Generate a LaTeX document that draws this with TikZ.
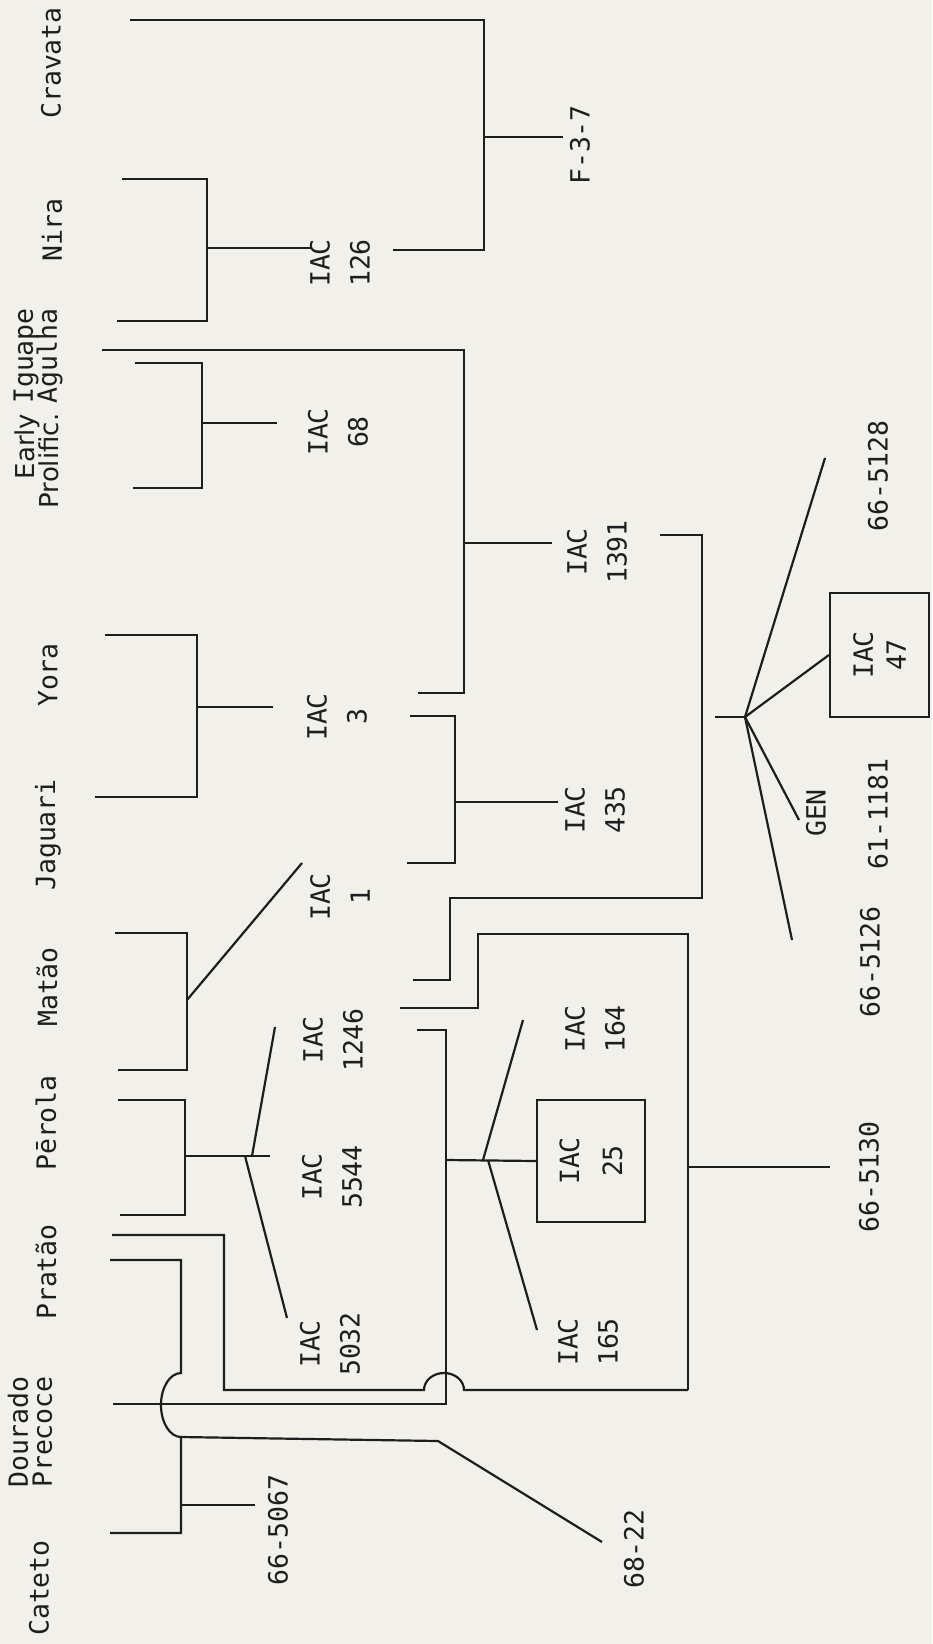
\documentclass[tikz,border=0pt]{standalone}
\usepackage{fontspec}
\newfontfamily\typefont{DejaVu Sans Mono}
\newfontfamily\propfont{DejaVu Sans}
\definecolor{paper}{HTML}{F1F0EB}
\definecolor{ink}{HTML}{1E1E1E}

\begin{document}
\begin{tikzpicture}[
  x=1pt, y=-1pt,
  line width=2.2pt,
  every node/.style={text=ink, rotate=90, inner sep=2pt,
    font={\typefont\fontsize{26.5}{24}\selectfont\lineskiplimit=-100pt}},
  cultivar/.style={align=center},
  sel/.style={align=center, font={\typefont\fontsize{26.5}{40}\selectfont}},
  selbox/.style={sel, draw=ink, inner sep=0pt},
  link/.style={draw=ink, line join=miter}
]
\fill[paper] (0,0) rectangle (932,1644);
\useasboundingbox (0,0) rectangle (932,1644);

\node[cultivar] (cravata) at (51,63) {Cravata};
\node[cultivar] (nira) at (52,230) {Nira};
\node[cultivar] (iguape) at (38,356) {Iguape\\Agulha};
\node[align=right, font={\propfont\fontsize{26}{24}\selectfont\lineskiplimit=-100pt}] (early) at (37,461) {Early\\Prolific.};
\node[cultivar] (yora) at (48,675) {Yora};
\node[cultivar] (jaguari) at (48,835) {Jaguari};
\node[cultivar] (matao) at (47,987) {Matão};
\node[cultivar] (perola) at (46,1123) {Pērola};
\node[cultivar] (pratao) at (46,1272) {Pratão};
\node[cultivar] (dourado) at (30,1432) {Dourado\\Precoce};
\node[cultivar] (cateto) at (39,1588) {Cateto};

\node[sel] (iac126) at (340,263) {IAC\\126};
\node[sel] (f37) at (580,145) {F-3-7};
\node[sel] (iac68) at (338,432) {IAC\\68};
\node[sel] (iac1391) at (597,552) {IAC\\1391};
\node[sel] (iac3) at (337,717) {IAC\\3};
\node[sel] (iac435) at (595,810) {IAC\\435};
\node[sel] (iac1) at (340,897) {IAC\\1};
\node[sel] (iac1246) at (333,1040) {IAC\\1246};
\node[sel] (iac5544) at (332,1177) {IAC\\5544};
\node[sel] (iac5032) at (330,1344) {IAC\\5032};
\node[sel] (iac164) at (595,1029) {IAC\\164};
\node[selbox, minimum width=122pt, minimum height=108pt] (iac25) at (591,1161) {IAC\\[3pt]25};
\node[sel] (iac165) at (588,1342) {IAC\\165};
\node[selbox, minimum width=124pt, minimum height=99pt] (iac47) at (879.5,655) {IAC\\[-7pt]47};
\node[sel] (sel5128) at (878,476) {66-5128};
\node[sel] (gen) at (816,813) {GEN};
\node[sel] (sel1181) at (878,814) {61-1181};
\node[sel] (sel5126) at (870,962) {66-5126};
\node[sel] (sel5130) at (869,1177) {66-5130};
\node[sel] (sel5067) at (278,1530) {66-5067};
\node[sel] (sel6822) at (634,1549) {68-22};

\coordinate (c-cra) at (130,20);
\coordinate (c-nir) at (122,179);
\coordinate (c-igu1) at (117,321);
\coordinate (c-igu2) at (102,350);
\coordinate (c-igu3) at (135,363);
\coordinate (c-ear) at (133,488);
\coordinate (c-yor) at (105,635);
\coordinate (c-jag) at (95,797);
\coordinate (c-mat) at (115,933);
\coordinate (c-per1) at (118,1070);
\coordinate (c-per2) at (118,1100);
\coordinate (c-pra1) at (120,1215);
\coordinate (c-pra2) at (112,1235);
\coordinate (c-pra3) at (110,1260);
\coordinate (c-dou) at (113,1404);
\coordinate (c-cat) at (110,1533);

\coordinate (e-126) at (393,250);
\coordinate (t-126) at (312,248);
\coordinate (t-f37) at (563,137);
\coordinate (t-68) at (277,423);
\coordinate (t-1391) at (552,543);
\coordinate (t-3) at (273,707);
\coordinate (e-3a) at (418,693);
\coordinate (e-3b) at (410,716);
\coordinate (t-1) at (302,863);
\coordinate (e-1) at (407,863);
\coordinate (t-435) at (558,802);
\coordinate (e-1391) at (660,535);
\coordinate (f-1391) at (413,980);
\coordinate (e-1246a) at (400,1008);
\coordinate (e-1246b) at (417,1030);
\coordinate (t-1246) at (275,1027);
\coordinate (t-5544) at (270,1156);
\coordinate (t-5032) at (287,1318);
\coordinate (t-164) at (523,1020);
\coordinate (t-165) at (537,1330);
\coordinate (t-5130) at (830,1167);
\coordinate (t-5067) at (255,1505);
\coordinate (t-6822) at (602,1542);
\coordinate (t-5128) at (825,458);
\coordinate (t-gen) at (799,820);
\coordinate (t-5126) at (792,940);
\coordinate (h-in) at (715,717);
\coordinate (hub) at (745,717);

\coordinate (j-f37) at (484,137);
\coordinate (j-126) at (207,248);
\coordinate (j-1391) at (464,543);
\coordinate (j-68) at (202,423);
\coordinate (j-3) at (197,707);
\coordinate (j-435) at (455,802);
\coordinate (k-1391a) at (702,898);
\coordinate (k-1391b) at (450,898);
\coordinate (j-1) at (187,1000);
\coordinate (j-5544) at (185,1156);
\coordinate (b-up) at (252,1156);
\coordinate (b-dn) at (245,1156);
\coordinate (k-5130) at (478,934);
\coordinate (j-5130) at (688,1167);
\coordinate (k-5130b) at (688,1390);
\coordinate (k-pra) at (224,1390);
\coordinate (hop-pra) at (424,1390);
\coordinate (j-25) at (446,1160);
\coordinate (b25-up) at (483,1160);
\coordinate (b25-dn) at (488,1160);
\coordinate (hop-cat) at (181,1373);
\coordinate (j-6822) at (181,1437);
\coordinate (k-6822) at (438,1441);
\coordinate (j-5067) at (181,1505);

\draw[link] (c-cra) -| (j-f37) |- (e-126);
\draw[link] (j-f37) -- (t-f37);
\draw[link] (c-nir) -| (j-126) |- (c-igu1);
\draw[link] (j-126) -- (t-126);
\draw[link] (c-igu2) -| (j-1391) |- (e-3a);
\draw[link] (j-1391) -- (t-1391);
\draw[link] (c-igu3) -| (j-68) |- (c-ear);
\draw[link] (j-68) -- (t-68);
\draw[link] (c-yor) -| (j-3) |- (c-jag);
\draw[link] (j-3) -- (t-3);
\draw[link] (e-3b) -| (j-435) |- (e-1);
\draw[link] (j-435) -- (t-435);
\draw[link] (e-1391) -| (k-1391a) -- (k-1391b) |- (f-1391);
\draw[link] (h-in) -- (hub);
\draw[link] (hub) -- (t-5128);
\draw[link] (hub) -- (iac47.north);
\draw[link] (hub) -- (t-gen);
\draw[link] (hub) -- (t-5126);
\draw[link] (c-mat) -| (j-1) |- (c-per1);
\draw[link] (j-1) -- (t-1);
\draw[link] (c-per2) -| (j-5544) |- (c-pra1);
\draw[link] (j-5544) -- (t-5544);
\draw[link] (b-up) -- (t-1246);
\draw[link] (b-dn) -- (t-5032);
\draw[link] (e-1246a) -| (k-5130) -| (j-5130) -- (k-5130b);
\draw[link] (j-5130) -- (t-5130);
\draw[link] (c-pra2) -| (k-pra) -- (hop-pra)
  arc[start angle=180, end angle=0, x radius=20pt, y radius=17pt] -- (k-5130b);
\draw[link] (e-1246b) -| (j-25) |- (c-dou);
\draw[link] (j-25) -- (iac25.north);
\draw[link] (b25-up) -- (t-164);
\draw[link] (b25-dn) -- (t-165);
\draw[link] (c-pra3) -| (hop-cat)
  arc[start angle=90, end angle=270, x radius=20pt, y radius=32pt] -- (j-5067) |- (c-cat);
\draw[link] (j-5067) -- (t-5067);
\draw[link] (j-6822) -- (k-6822) -- (t-6822);
\end{tikzpicture}
\end{document}
